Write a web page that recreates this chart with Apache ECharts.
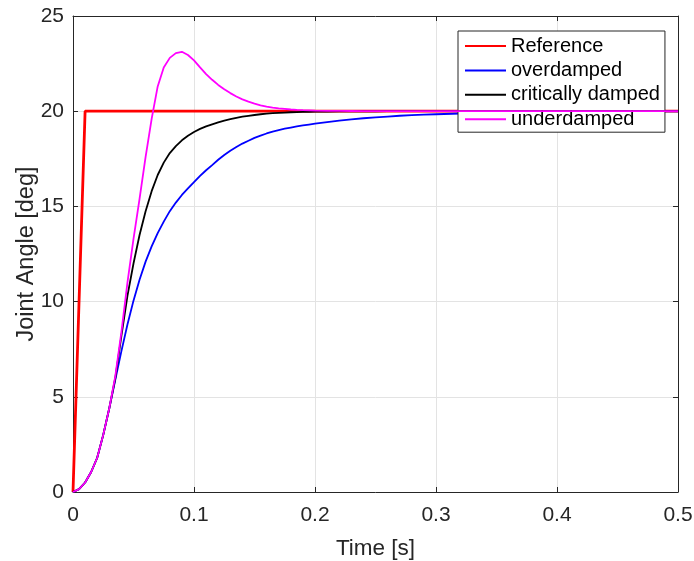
<!DOCTYPE html>
<html>
<head>
<meta charset="utf-8">
<script src="https://cdn.jsdelivr.net/npm/echarts@6/dist/echarts.min.js"></script>
<style>
html,body{margin:0;padding:0;background:#fff;}
#chart{width:694px;height:561px;}
</style>
</head>
<body>
<div id="chart"></div>
<script>
var seriesNames = ['Reference', 'overdamped', 'critically damped', 'underdamped'];
var xTicks = [0, 0.1, 0.2, 0.3, 0.4, 0.5];
var yTicks = [0, 5, 10, 15, 20, 25];

var refTime = [0, 0.01, 0.5];
var refValue = [0, 20, 20];

var time = [0,0.005,0.01,0.015,0.02,0.025,0.03,0.035,0.04,0.045,
  0.05,0.055,0.06,0.065,0.07,0.075,0.08,0.085,0.09,0.095,
  0.1,0.105,0.11,0.115,0.12,0.125,0.13,0.135,0.14,0.145,
  0.15,0.155,0.16,0.165,0.17,0.175,0.18,0.185,0.19,0.195,0.2,
  0.21,0.22,0.23,0.24,0.25,0.26,0.27,0.28,0.29,0.3,
  0.32,0.34,0.36,0.38,0.4,0.42,0.44,0.46,0.48,0.5];

var overdamped = [0,0.15,0.5,1.05,1.8,3.0,4.4,5.9,7.4,8.8,
  10.05,11.15,12.1,12.9,13.6,14.2,14.75,15.2,15.6,15.95,
  16.28,16.6,16.9,17.17,17.45,17.7,17.92,18.12,18.3,18.45,
  18.6,18.72,18.83,18.93,19.01,19.08,19.14,19.2,19.25,19.3,19.35,
  19.43,19.5,19.57,19.63,19.68,19.72,19.76,19.79,19.82,19.84,
  19.88,19.91,19.93,19.95,19.96,19.97,19.98,19.985,19.99,19.99];

var critical = [0,0.15,0.5,1.05,1.8,3.0,4.4,6.0,8.2,10.3,
  12.0,13.5,14.75,15.8,16.65,17.3,17.8,18.17,18.47,18.71,
  18.91,19.07,19.2,19.31,19.41,19.5,19.58,19.65,19.71,19.76,
  19.8,19.84,19.87,19.895,19.915,19.93,19.945,19.955,19.965,19.97,19.975,
  19.985,19.99,19.99,19.995,19.995,20,20,20,20,20,
  20,20,20,20,20,20,20,20,20,20];

var underdamped = [0,0.15,0.5,1.05,1.8,3.0,4.4,6.1,8.4,11.0,
  13.3,15.4,17.6,19.6,21.3,22.3,22.8,23.05,23.12,22.95,
  22.67,22.3,21.95,21.65,21.38,21.15,20.95,20.77,20.62,20.5,
  20.4,20.31,20.24,20.19,20.15,20.12,20.09,20.07,20.055,20.045,20.035,
  20.02,20.015,20.01,20.005,20.005,20,20,20,20,20,
  20,20,20,20,20,20,20,20,20,20];

function pairs(t, v) { return t.map(function (x, i) { return [x, v[i]]; }); }

var FONT = '"Liberation Sans", Arial, Helvetica, sans-serif';
var AX = '#262626';
var GRID = '#e3e3e3';

var chart = echarts.init(document.getElementById('chart'), null, {renderer: 'canvas'});

function xAxisCfg(pos, main) {
  return {
    type: 'value', position: pos, min: xTicks[0], max: xTicks[xTicks.length - 1],
    interval: xTicks[1] - xTicks[0],
    axisLine: {show: true, onZero: false, lineStyle: {color: AX, width: 1}},
    axisTick: {show: true, inside: true, length: 5, lineStyle: {color: AX}},
    axisLabel: {show: main, color: AX, fontSize: 21, fontFamily: FONT, margin: 13,
      formatter: function (v) { return v === 0 ? '0' : (+v).toFixed(1); }},
    splitLine: {show: main, lineStyle: {color: GRID, width: 1}},
    name: main ? 'Time [s]' : '', nameLocation: 'middle', nameGap: 45,
    nameMoveOverlap: false,
    nameTextStyle: {color: AX, fontSize: 22.5, fontFamily: FONT}
  };
}
function yAxisCfg(pos, main) {
  return {
    type: 'value', position: pos, min: yTicks[0], max: yTicks[yTicks.length - 1],
    interval: yTicks[1] - yTicks[0],
    axisLine: {show: true, onZero: false, lineStyle: {color: AX, width: 1}},
    axisTick: {show: true, inside: true, length: 5, lineStyle: {color: AX}},
    axisLabel: {show: main, color: AX, fontSize: 21, fontFamily: FONT, margin: 9},
    splitLine: {show: main, lineStyle: {color: GRID, width: 1}},
    name: main ? 'Joint Angle [deg]' : '', nameLocation: 'middle', nameGap: 34,
    nameMoveOverlap: false,
    nameTextStyle: {color: AX, fontSize: 23.5, fontFamily: FONT}
  };
}

var colors = ['#ff0000', '#0000ff', '#000000', '#ff00ff'];
var widths = [2.8, 1.8, 1.8, 1.8];
var datas = [pairs(refTime, refValue), pairs(time, overdamped), pairs(time, critical), pairs(time, underdamped)];

chart.setOption({
  animation: false,
  backgroundColor: '#ffffff',
  grid: {left: 73, right: 16, top: 16, bottom: 69, containLabel: false, outerBoundsMode: 'none'},
  xAxis: [xAxisCfg('bottom', true), xAxisCfg('top', false)],
  yAxis: [yAxisCfg('left', true), yAxisCfg('right', false)],
  legend: {
    orient: 'vertical', left: 458, top: 31,
    itemWidth: 41, itemHeight: 14, itemGap: 4.4,
    padding: [5, 5, 3, 6],
    backgroundColor: '#ffffff', borderColor: AX, borderWidth: 1,
    itemStyle: {opacity: 0, borderWidth: 0},
    textStyle: {color: '#000', fontSize: 20, fontFamily: FONT, lineHeight: 20},
    data: seriesNames.slice()
  },
  series: seriesNames.map(function (n, i) {
    return {
      name: n, type: 'line', xAxisIndex: 0, yAxisIndex: 0,
      data: datas[i], symbol: 'none', showSymbol: false, smooth: false,
      lineStyle: {color: colors[i], width: widths[i]},
      itemStyle: {color: colors[i]},
      z: 2 + i
    };
  })
});
</script>
</body>
</html>
